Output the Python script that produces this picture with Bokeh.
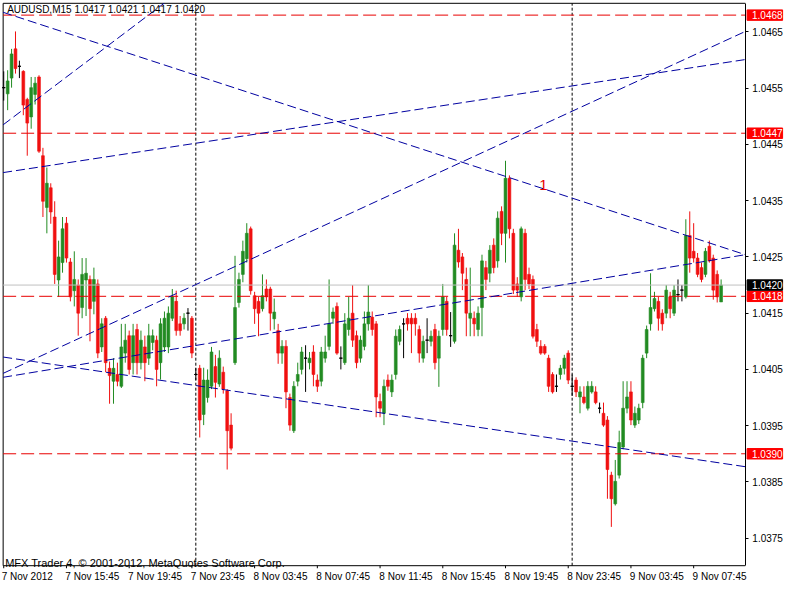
from bokeh.plotting import figure
from bokeh.models import (Range1d, FixedTicker, PrintfTickFormatter, Label,
                          ColumnDataSource)
from bokeh.core.properties import value
from bokeh.embed import file_html
from bokeh.resources import INLINE

# ---------------- data (AUDUSD, M15) ----------------
opens = [1.04551,1.04540,1.04568,1.04620,1.04589,1.04580,1.04530,1.04499,1.04539,1.04570,
         1.04430,1.04338,1.04373,1.04321,1.04209,1.04240,1.04310,1.04241,1.04190,1.04200,
         1.04160,1.04209,1.04210,1.04171,1.04202,1.04090,1.04141,1.04052,1.04029,1.04041,
         1.04020,1.04079,1.04110,1.04062,1.04121,1.04062,1.04090,1.04070,1.04098,1.04102,
         1.04062,1.04090,1.04090,1.04141,1.04171,1.04131,1.04131,1.04150,1.04141,1.04041,
         1.04052,1.03970,1.04000,1.04020,1.04055,1.04024,1.04045,1.04012,1.03951,1.04062,
         1.04169,1.04219,1.04247,1.04300,1.04181,1.04171,1.04158,1.04193,1.04193,1.04140,
         1.04119,1.04079,1.04091,1.04000,1.03941,1.04029,1.04050,1.04070,1.04062,1.04081,
         1.04031,1.04029,1.04070,1.04091,1.04141,1.04162,1.04070,1.04062,1.04121,1.04150,
         1.04110,1.04070,1.04091,1.04131,1.04143,1.04131,1.03993,1.03972,1.04031,1.04010,
         1.04041,1.04100,1.04131,1.04141,1.04141,1.04141,1.04121,1.04070,1.04102,1.04100,
         1.04121,1.04070,1.04121,1.04171,1.04110,1.04100,1.04262,1.04250,1.04210,1.04141,
         1.04141,1.04121,1.04160,1.04231,1.04221,1.04271,1.04243,1.04331,1.04292,1.04390,
         1.04292,1.04202,1.04179,1.04292,1.04219,1.04210,1.04121,1.04091,1.04091,1.04070,
         1.04041,1.04020,1.04041,1.04052,1.04079,1.04020,1.04031,1.04001,1.04001,1.03981,
         1.04010,1.04010,1.03981,1.03972,1.03960,1.03862,1.03811,1.03862,1.03912,1.03981,
         1.04010,1.03951,1.03960,1.03991,1.04079,1.04131,1.04158,1.04171,1.04150,1.04150,
         1.04179,1.04150,1.04183,1.04191,1.04179,1.04288,1.04260,1.04248,1.04231,1.04219,
         1.04269,1.04248,1.04219,1.04170]
highs = [1.04580,1.04582,1.04620,1.04651,1.04599,1.04582,1.04533,1.04570,1.04570,1.04573,
         1.04444,1.04409,1.04381,1.04349,1.04279,1.04321,1.04321,1.04248,1.04260,1.04210,
         1.04248,1.04248,1.04217,1.04231,1.04210,1.04141,1.04145,1.04064,1.04070,1.04062,
         1.04131,1.04131,1.04119,1.04131,1.04131,1.04119,1.04110,1.04131,1.04121,1.04110,
         1.04141,1.04153,1.04162,1.04193,1.04190,1.04145,1.04150,1.04159,1.04145,1.04052,
         1.04058,1.04053,1.04050,1.04090,1.04076,1.04084,1.04055,1.04015,1.03972,1.04252,
         1.04222,1.04279,1.04310,1.04304,1.04188,1.04179,1.04219,1.04210,1.04197,1.04176,
         1.04131,1.04102,1.04102,1.04007,1.04029,1.04062,1.04090,1.04093,1.04081,1.04093,
         1.04041,1.04090,1.04110,1.04210,1.04160,1.04169,1.04091,1.04150,1.04179,1.04200,
         1.04119,1.04110,1.04153,1.04200,1.04153,1.04136,1.04007,1.04032,1.04041,1.04041,
         1.04121,1.04128,1.04141,1.04150,1.04150,1.04150,1.04128,1.04110,1.04141,1.04119,
         1.04131,1.04119,1.04202,1.04179,1.04152,1.04292,1.04300,1.04257,1.04231,1.04231,
         1.04153,1.04162,1.04254,1.04243,1.04271,1.04283,1.04331,1.04340,1.04421,1.04395,
         1.04300,1.04214,1.04304,1.04300,1.04231,1.04217,1.04131,1.04102,1.04095,1.04076,
         1.04045,1.04041,1.04058,1.04076,1.04084,1.04041,1.04036,1.04020,1.04020,1.04029,
         1.04029,1.04020,1.03991,1.03991,1.03967,1.03868,1.03889,1.03941,1.04029,1.04029,
         1.04029,1.03984,1.03989,1.04076,1.04128,1.04221,1.04188,1.04179,1.04157,1.04200,
         1.04188,1.04200,1.04210,1.04200,1.04317,1.04331,1.04310,1.04257,1.04240,1.04266,
         1.04279,1.04254,1.04226,1.04210]
lows = [1.04528,1.04511,1.04551,1.04576,1.04568,1.04502,1.04430,1.04478,1.04521,1.04435,
        1.04321,1.04292,1.04309,1.04202,1.04179,1.04222,1.04240,1.04171,1.04162,1.04110,
        1.04141,1.04145,1.04100,1.04148,1.04070,1.04081,1.04045,1.03989,1.03989,1.04020,
        1.04017,1.04062,1.04041,1.04041,1.04041,1.04050,1.04029,1.04058,1.04084,1.04020,
        1.04032,1.04081,1.04079,1.04136,1.04110,1.04110,1.04121,1.04119,1.04070,1.04031,
        1.03929,1.03951,1.03991,1.04015,1.04000,1.04019,1.04007,1.03872,1.03906,1.04058,
        1.04160,1.04205,1.04240,1.04183,1.04131,1.04109,1.04153,1.04171,1.04119,1.04121,
        1.04060,1.04060,1.03981,1.03941,1.03937,1.04020,1.04041,1.04010,1.04050,1.04020,
        1.04010,1.04020,1.04062,1.04084,1.04131,1.04076,1.04050,1.04058,1.04110,1.04090,
        1.04052,1.04062,1.04084,1.04119,1.04110,1.03965,1.03965,1.03951,1.04012,1.04001,
        1.04032,1.04093,1.04070,1.04119,1.04079,1.04110,1.04062,1.04062,1.04079,1.04091,
        1.04050,1.04019,1.04110,1.04110,1.04090,1.04096,1.04231,1.04191,1.04109,1.04109,
        1.04109,1.04109,1.04109,1.04191,1.04205,1.04221,1.04231,1.04271,1.04240,1.04283,
        1.04184,1.04179,1.04171,1.04191,1.04193,1.04105,1.04090,1.04076,1.04076,1.04010,
        1.04007,1.04010,1.04032,1.04041,1.04024,1.04003,1.04001,1.03972,1.03988,1.03977,
        1.04007,1.03988,1.03972,1.03948,1.03820,1.03770,1.03808,1.03856,1.03908,1.03972,
        1.03951,1.03946,1.03953,1.03981,1.04070,1.04119,1.04153,1.04119,1.04119,1.04141,
        1.04141,1.04145,1.04171,1.04171,1.04176,1.04222,1.04240,1.04214,1.04205,1.04214,
        1.04240,1.04174,1.04169,1.04170]
closes = [1.04551,1.04563,1.04611,1.04585,1.04589,1.04520,1.04488,1.04551,1.04559,1.04438,
          1.04349,1.04381,1.04330,1.04219,1.04250,1.04300,1.04248,1.04179,1.04210,1.04150,
          1.04219,1.04221,1.04158,1.04210,1.04079,1.04131,1.04062,1.04039,1.04052,1.04029,
          1.04090,1.04102,1.04050,1.04110,1.04062,1.04102,1.04062,1.04110,1.04110,1.04050,
          1.04131,1.04141,1.04150,1.04179,1.04119,1.04119,1.04141,1.04150,1.04079,1.04041,
          1.03960,1.04031,1.04031,1.04081,1.04027,1.04070,1.04015,1.03941,1.03910,1.04160,
          1.04210,1.04260,1.04292,1.04190,1.04158,1.04150,1.04181,1.04179,1.04150,1.04152,
          1.04079,1.04091,1.04010,1.03951,1.04020,1.04041,1.04081,1.04070,1.04070,1.04041,
          1.04020,1.04081,1.04081,1.04131,1.04152,1.04079,1.04070,1.04131,1.04141,1.04102,
          1.04062,1.04102,1.04131,1.04152,1.04121,1.04001,1.03981,1.04020,1.04020,1.04031,
          1.04109,1.04121,1.04131,1.04131,1.04131,1.04131,1.04079,1.04100,1.04102,1.04109,
          1.04062,1.04109,1.04179,1.04121,1.04110,1.04271,1.04241,1.04221,1.04150,1.04150,
          1.04131,1.04150,1.04243,1.04210,1.04262,1.04231,1.04319,1.04292,1.04390,1.04300,
          1.04191,1.04191,1.04300,1.04210,1.04202,1.04109,1.04100,1.04079,1.04079,1.04020,
          1.04010,1.04020,1.04052,1.04070,1.04031,1.04020,1.04010,1.04010,1.03991,1.04020,
          1.04020,1.03991,1.03981,1.03951,1.03872,1.03820,1.03851,1.03920,1.03981,1.04001,
          1.03960,1.03972,1.03981,1.04070,1.04121,1.04160,1.04176,1.04141,1.04131,1.04191,
          1.04158,1.04191,1.04183,1.04191,1.04288,1.04248,1.04248,1.04219,1.04210,1.04260,
          1.04243,1.04191,1.04179,1.04200]

x_tick_bars = [0, 16, 32, 48, 64, 80, 96, 112, 128, 144, 160, 176]
x_tick_labels = ["7 Nov 2012", "7 Nov 15:45", "7 Nov 19:45", "7 Nov 23:45",
                 "8 Nov 03:45", "8 Nov 07:45", "8 Nov 11:45", "8 Nov 15:45",
                 "8 Nov 19:45", "8 Nov 23:45", "9 Nov 03:45", "9 Nov 07:45"]
y_ticks = [1.0375, 1.0385, 1.0395, 1.0405, 1.0415, 1.0425, 1.0435, 1.0445, 1.0455, 1.0465]

levels = [1.0468, 1.0447, 1.0418, 1.0390]       # red dashed horizontal levels
bid_price = 1.0420
day_separators = [49, 145]                        # bars at 8 Nov 00:00 and 9 Nov 00:00

# trend lines: (bar, price) -> (bar, price)
tl_x0 = [-0.15, -0.15, -0.15, -0.15, -0.15, -0.15]
tl_y0 = [1.04685, 1.04072, 1.04036, 1.04043, 1.04400, 1.04485]
tl_x1 = [189.18, 189.18, 189.18, 189.18, 189.18, 40.9]
tl_y1 = [1.04254, 1.03877, 1.04254, 1.04651, 1.04601, 1.04701]

trend_label_bar, trend_label_price = 137.7, 1.04378

header = "AUDUSD,M15  1.0417 1.0421 1.0417 1.0420"
footer = "MFX Trader 4, \u00a9 2001-2012, MetaQuotes Software Corp."

# ---------------- layout / styling ----------------
FONT = "Liberation Sans"
GREEN = "#228B22"
RED = "#F01010"
BLUE = "#0000A0"
LEVEL_RED = "#E80000"
# the frame covers the whole width and reaches 3px below the chart (tick marks);
# chart area is XL..X1 / YB..YT, price scale to the right of X1
FX0, FX1 = -0.825, 199.17
FY0, FY1 = 1.03696, 1.04706
XL, X1, YB, YT = -0.15, 189.18, 1.03701, 1.04701

p = figure(width=784, height=584, x_range=Range1d(FX0, FX1), y_range=Range1d(FY0, FY1),
           output_backend="svg", toolbar_location=None, y_axis_location="right",
           min_border_left=0, min_border_right=0, min_border_top=0, min_border_bottom=15)
p.xgrid.visible = False
p.ygrid.visible = False
p.outline_line_color = None
p.background_fill_color = "white"
p.border_fill_color = "white"

# chart border (left, top, bottom); right = y axis line
p.segment(x0=[XL, XL, XL], y0=[YB, YT, YB], x1=[XL, X1, X1], y1=[YT, YT, YB],
          line_color="black", line_width=1)
# time tick marks below the chart
p.segment(x0=x_tick_bars, x1=x_tick_bars, y0=[YB] * len(x_tick_bars),
          y1=[FY0] * len(x_tick_bars), line_color="black", line_width=1)

# candles
n = len(opens)
idx = list(range(n))
colors, top, bot = [], [], []
for o, c in zip(opens, closes):
    if c > o:
        colors.append(GREEN)
    elif c < o:
        colors.append(RED)
    else:
        colors.append("black")
    top.append(max(o, c))
    bot.append(min(o, c))

src = ColumnDataSource(dict(x=idx, o=opens, h=highs, l=lows, c=closes,
                            top=top, bot=bot, col=colors))
p.segment(x0="x", y0="l", x1="x", y1="h", line_color="col", line_width=1, source=src)
p.vbar(x="x", width=0.72, top="top", bottom="bot", fill_color="col", line_color="col",
       line_width=0.6, source=src)
dx = [i for i in idx if opens[i] == closes[i]]
p.segment(x0=[i - 0.4 for i in dx], x1=[i + 0.4 for i in dx],
          y0=[opens[i] for i in dx], y1=[opens[i] for i in dx],
          line_color="black", line_width=1)

# day separators
p.segment(x0=day_separators, x1=day_separators, y0=[YB] * len(day_separators),
          y1=[YT] * len(day_separators), line_color="black", line_width=1, line_dash="3 2")

# bid line
p.segment(x0=[XL], x1=[X1], y0=[bid_price], y1=[bid_price], line_color="#C0C0C0", line_width=1)

# levels
p.segment(x0=[XL] * len(levels), x1=[X1] * len(levels), y0=levels, y1=levels,
          line_color=LEVEL_RED, line_width=1, line_dash="13 5")

# trend lines
p.segment(x0=tl_x0, y0=tl_y0, x1=tl_x1, y1=tl_y1, line_color=BLUE, line_width=1,
          line_dash="9 4")

# trend label
p.text(x=[trend_label_bar], y=[trend_label_price], text=["1"], text_color=LEVEL_RED,
       text_font=value(FONT), text_font_size="15px", text_align="center",
       text_baseline="middle")

# header and footer
p.add_layout(Label(x=XL, y=YT, x_offset=4, y_offset=-1, text=header, text_font=FONT,
                   text_font_size="10px", text_color="black", text_baseline="top"))
p.add_layout(Label(x=XL, y=YB, x_offset=2, y_offset=3, text=footer, text_font=FONT,
                   text_font_size="11px", text_color="black", text_baseline="alphabetic"))

# price boxes on the price scale
box_prices = levels + [bid_price]
box_fill = ["#FF0000"] * len(levels) + ["black"]
box_half = 0.000093
p.quad(left=[X1 + 0.45] * len(box_prices), right=[X1 + 9.5] * len(box_prices),
       bottom=[b - box_half for b in box_prices], top=[b + box_half for b in box_prices],
       fill_color=box_fill, line_color=box_fill)
p.text(x=[X1 + 1.7] * len(box_prices), y=box_prices, text=["%.4f" % b for b in box_prices],
       text_color="white", text_font=value(FONT), text_font_size="10px",
       text_baseline="middle", text_align="left")

# y axis (price scale) drawn at the chart's right edge
ya = p.yaxis[0]
ya.fixed_location = X1
ya.bounds = (YB, YT)
ya.ticker = FixedTicker(ticks=y_ticks)
ya.formatter = PrintfTickFormatter(format="%.4f")
ya.major_tick_out = 3
ya.major_tick_in = 0
ya.minor_tick_out = 0
ya.minor_tick_in = 0
ya.major_label_standoff = 4
ya.axis_line_color = "black"
ya.major_tick_line_color = "black"

# x axis: time labels, each starting at its tick mark
label_pos = [b + 0.6 * len(t) for b, t in zip(x_tick_bars, x_tick_labels)]
xa = p.xaxis[0]
xa.ticker = FixedTicker(ticks=label_pos)
xa.major_label_overrides = {pos: t for pos, t in zip(label_pos, x_tick_labels)}
xa.axis_line_color = None
xa.major_tick_line_color = None
xa.minor_tick_line_color = None
xa.major_tick_out = 0
xa.major_tick_in = 0
xa.minor_tick_out = 0
xa.minor_tick_in = 0
xa.major_label_standoff = 2

for ax in (xa, ya):
    ax.major_label_text_font = FONT
    ax.major_label_text_font_size = "10px"
    ax.major_label_text_color = "black"

open("out.html", "w").write(file_html(p, INLINE))
